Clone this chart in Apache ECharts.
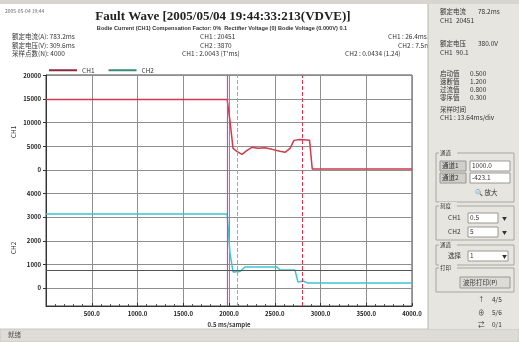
<!DOCTYPE html>
<html><head><meta charset="utf-8">
<script src="https://cdn.jsdelivr.net/npm/echarts@6/dist/echarts.min.js"></script>
<style>html,body{margin:0;padding:0;background:#fff}#c{width:519px;height:342px}</style>
</head><body><div id="c"></div>
<script>
// ---- data ----
const ch1Time  = [0, 1980, 2010, 2044, 2090, 2142, 2197, 2251, 2317, 2393, 2470, 2557, 2612, 2667, 2710, 2776, 2880, 2910, 4000];
const ch1Value = [14900, 14900, 10500, 4570, 3900, 3300, 4150, 4800, 4570, 4700, 4360, 3940, 3730, 4570, 6260, 6470, 6300, 200, 200];
const ch2Time  = [0, 1980, 2010, 2044, 2120, 2175, 2525, 2557, 2721, 2754, 2809, 2863, 4000];
const ch2Value = [3130, 3130, 1500, 680, 700, 890, 890, 760, 760, 250, 300, 210, 210];
const xTickValues = [500, 1000, 1500, 2000, 2500, 3000, 3500, 4000];
const ch1TickLabels = ['0', '5000', '10000', '15000', '20000'];
const ch2TickLabels = ['0', '1000', '2000', '3000', '4000'];
const cursorTimes = [1980, 2090, 2800];
const ch2Threshold = 760;

// ---- layout / scaling ----
const CH1_STEP = 5000, CH1_BASE = 5;   // CH1 panel sits on rows 5..9
const CH2_STEP = 1000, CH2_BASE = 0;   // CH2 panel sits on rows 0..4
const toRow1 = v => CH1_BASE + v / CH1_STEP;
const toRow2 = v => CH2_BASE + v / CH2_STEP;
const rowValues = [];
ch2TickLabels.forEach((_, i) => rowValues.push(CH2_BASE + i));
ch1TickLabels.forEach((_, i) => rowValues.push(CH1_BASE + i));
const rowLabel = v => {
  const r = Math.round(v);
  return r >= CH1_BASE ? ch1TickLabels[r - CH1_BASE] : ch2TickLabels[r - CH2_BASE];
};

const FONT = '"Noto Sans CJK SC","Liberation Sans",sans-serif';
const txt = (x, y, s, o) => Object.assign({type:'text', x, y, silent:true,
  style:Object.assign({text:s, fill:'#333', font:'6.5px ' + FONT, textVerticalAlign:'middle'}, (o||{}).style||{})}, o && o.z ? {z:o.z} : {});
const rect = (x, y, w, h, fill, stroke, z) => ({type:'rect', silent:true, z: z||0,
  shape:{x, y, width:w, height:h}, style:{fill, stroke: stroke||null, lineWidth:1}});

const graphics = [];
// window chrome
graphics.push(rect(0, 0, 519, 4, '#d6d5d0', null, 1));
graphics.push(rect(0, 329, 519, 13, '#dedcd6', '#c8c6c0', 1));
graphics.push(txt(8, 335, '就绪', {z:2, style:{fill:'#555'}}));
// header texts
graphics.push(txt(5, 11, '2005-05-04 19:44', {style:{font:'5px ' + FONT, fill:'#666'}}));
graphics.push({type:'text', x:223, y:17, silent:true, style:{text:'Fault Wave [2005/05/04 19:44:33:213(VDVE)]',
  font:'bold 13px "Liberation Serif",serif', fill:'#222', textAlign:'center', textVerticalAlign:'middle'}});
graphics.push({type:'text', x:222, y:28, silent:true, style:{text:'Bodie Current (CH1) Compensation Factor: 0%  Rectifier Voltage (0) Bodie Voltage (0.000V) 0.1',
  font:'bold 5.6px "Liberation Sans",sans-serif', fill:'#333', textAlign:'center', textVerticalAlign:'middle'}});
[['额定电流(A): 783.2ms', 'CH1 : 20451', 'CH1 : 26.4ms'],
 ['额定电压(V): 309.6ms', 'CH2 : 3870', 'CH2 : 7.5ms'],
 ['采样点数(N): 4000', 'CH1 : 2.0043 (T\'ms)', 'CH2 : 0.0434 (1.24)']].forEach((r, i) => {
  const y = 37 + i * 8.5;
  graphics.push(txt(12, y, r[0]));
  graphics.push(txt(i === 2 ? 182 : 200, y, r[1]));
  graphics.push(txt(i === 2 ? 345 : (i === 0 ? 388 : 398), y, r[2]));
});
graphics.push({type:'text', x:14, y:132, rotation:Math.PI/2, silent:true, style:{text:'CH1', font:'6.5px ' + FONT, fill:'#333', textAlign:'center', textVerticalAlign:'middle'}});
graphics.push({type:'text', x:14, y:248, rotation:Math.PI/2, silent:true, style:{text:'CH2', font:'6.5px ' + FONT, fill:'#333', textAlign:'center', textVerticalAlign:'middle'}});

// right panel
const P = 428;
graphics.push(rect(P, 4, 519 - P, 325, '#e6e5df', null, 3));
graphics.push({type:'line', z:3, silent:true, shape:{x1:P, y1:4, x2:P, y2:329}, style:{stroke:'#b8b6b0', lineWidth:1}});
const pt = (x, y, s, extra) => { const t = txt(x, y, s, {z:8}); if (extra) Object.assign(t.style, extra); graphics.push(t); };
pt(440, 12, '额定电流'); pt(478, 12, '78.2ms');
pt(440, 21, 'CH1'); pt(456, 21, '20451');
pt(440, 44, '额定电压'); pt(478, 44, '380.0V');
pt(440, 53, 'CH1'); pt(456, 53, '90.1');
pt(440, 74, '启动值'); pt(470, 74, '0.500');
pt(440, 82, '速断值'); pt(470, 82, '1.200');
pt(440, 90, '过流值'); pt(470, 90, '0.800');
pt(440, 98, '零序值'); pt(470, 98, '0.300');
pt(440, 110, '采样时间');
pt(440, 118, 'CH1 : 13.6'); pt(470, 118, '4ms/div');
// group boxes
const box = (y, h, title) => {
  graphics.push({type:'rect', z:4, silent:true, shape:{x:436, y, width:78, height:h}, style:{fill:null, stroke:'#a8a6a0', lineWidth:1}});
  graphics.push(rect(439, y - 4, 18, 8, '#e6e5df', null, 5));
  pt(440, y, title, {font:'5.5px ' + FONT});
};
const field = (x, y, w, s) => {
  graphics.push(rect(x, y - 5, w, 10, '#fff', '#9a9894', 5));
  pt(x + 2, y, s);
};
box(153, 49, '通道');
graphics.push(rect(440, 161, 26, 10, '#d0cfca', '#9a9894', 5)); pt(442, 166, '通道1');
field(470, 166, 40, '1000.0');
graphics.push(rect(440, 173, 26, 10, '#d0cfca', '#9a9894', 5)); pt(442, 178, '通道2');
field(470, 178, 40, '-423.1');
pt(475, 193, '🔍 放大');
box(206, 34, '刻度');
pt(448, 218, 'CH1'); field(468, 218, 30, '0.5'); pt(502, 218, '▼', {font:'5px ' + FONT});
pt(448, 232, 'CH2'); field(468, 232, 30, '5'); pt(502, 232, '▼', {font:'5px ' + FONT});
box(245, 20, '通道');
pt(448, 256, '选择'); field(468, 256, 40, '1'); pt(502, 256, '▼', {font:'5px ' + FONT});
box(268, 24, '打印');
graphics.push(rect(460, 277, 50, 11, '#dcdbd5', '#9a9894', 5)); pt(463, 282.5, '波形打印(P)');
pt(478, 300, '↑'); pt(492, 300, '4/5');
pt(478, 313, '⊕'); pt(492, 313, '5/6');
pt(478, 325, '⇄'); pt(492, 325, '0/1');

const option = {
  animation: false,
  backgroundColor: '#fff',
  textStyle: {fontFamily: FONT},
  legend: {
    left: 44, top: 62, icon: 'rect', itemWidth: 28, itemHeight: 2, itemGap: 14,
    textStyle: {fontSize: 6.5, color: '#333'},
    data: [{name: 'CH1', itemStyle: {color: '#8a2a3a'}}, {name: 'CH2', itemStyle: {color: '#3a8a7a'}}]
  },
  grid: {left: 46, right: 107, top: 75, bottom: 36, show: true, borderColor: '#444', borderWidth: 1, backgroundColor: '#fff'},
  xAxis: {
    type: 'value', min: 0, max: 4000, interval: 500,
    axisLine: {show: true, onZero: false, lineStyle: {color: '#333'}},
    axisTick: {show: true, inside: true, length: 3, lineStyle: {color: '#333'}},
    minorTick: {show: true, splitNumber: 5, length: 2, lineStyle: {color: '#555'}},
    axisLabel: {show: true, fontSize: 6, fontWeight: 'bold', color: '#222', margin: 5,
      formatter: v => xTickValues.indexOf(v) >= 0 ? v.toFixed(1) : ''},
    splitLine: {show: true, lineStyle: {color: '#8e8e8e', width: 1}},
    name: '0.5 ms/sample', nameLocation: 'middle', nameGap: 15,
    nameTextStyle: {fontSize: 6, fontWeight: 'bold', color: '#333'}
  },
  yAxis: {
    type: 'value', min: -0.76, max: 9.02,
    axisLine: {show: true, onZero: false, lineStyle: {color: '#333'}},
    axisTick: {show: true, customValues: rowValues, length: 3, lineStyle: {color: '#333'}},
    axisLabel: {customValues: rowValues, fontSize: 6, fontWeight: 'bold', color: '#222', margin: 5, formatter: rowLabel},
    splitLine: {show: true, lineStyle: {color: '#8e8e8e', width: 1}}
  },
  graphic: graphics,
  series: [
    {
      name: 'CH1', type: 'line', symbol: 'none', color: '#8a2a3a',
      lineStyle: {color: '#cc3c4c', width: 1.5},
      data: ch1Time.map((t, i) => [t, toRow1(ch1Value[i])]),
      markLine: {
        silent: true, symbol: 'none', label: {show: false},
        data: [
          {xAxis: cursorTimes[0], lineStyle: {color: '#d040d0', type: 'solid', width: 1.2}},
          {xAxis: cursorTimes[1], lineStyle: {color: '#6ccf6c', type: 'dashed', width: 1}},
          {xAxis: cursorTimes[2], lineStyle: {color: '#d03c5c', type: 'dashed', width: 1}}
        ]
      }
    },
    {
      name: 'CH2', type: 'line', symbol: 'none', color: '#3a8a7a',
      lineStyle: {color: '#3cc4d0', width: 1.5},
      data: ch2Time.map((t, i) => [t, toRow2(ch2Value[i])]),
      markLine: {
        silent: true, symbol: 'none', label: {show: false},
        data: [{yAxis: toRow2(ch2Threshold), lineStyle: {color: '#555', type: 'solid', width: 1}}]
      }
    }
  ]
};
const chart = echarts.init(document.getElementById('c'), null, {renderer: 'canvas'});
chart.setOption(option);
</script>
</body></html>
